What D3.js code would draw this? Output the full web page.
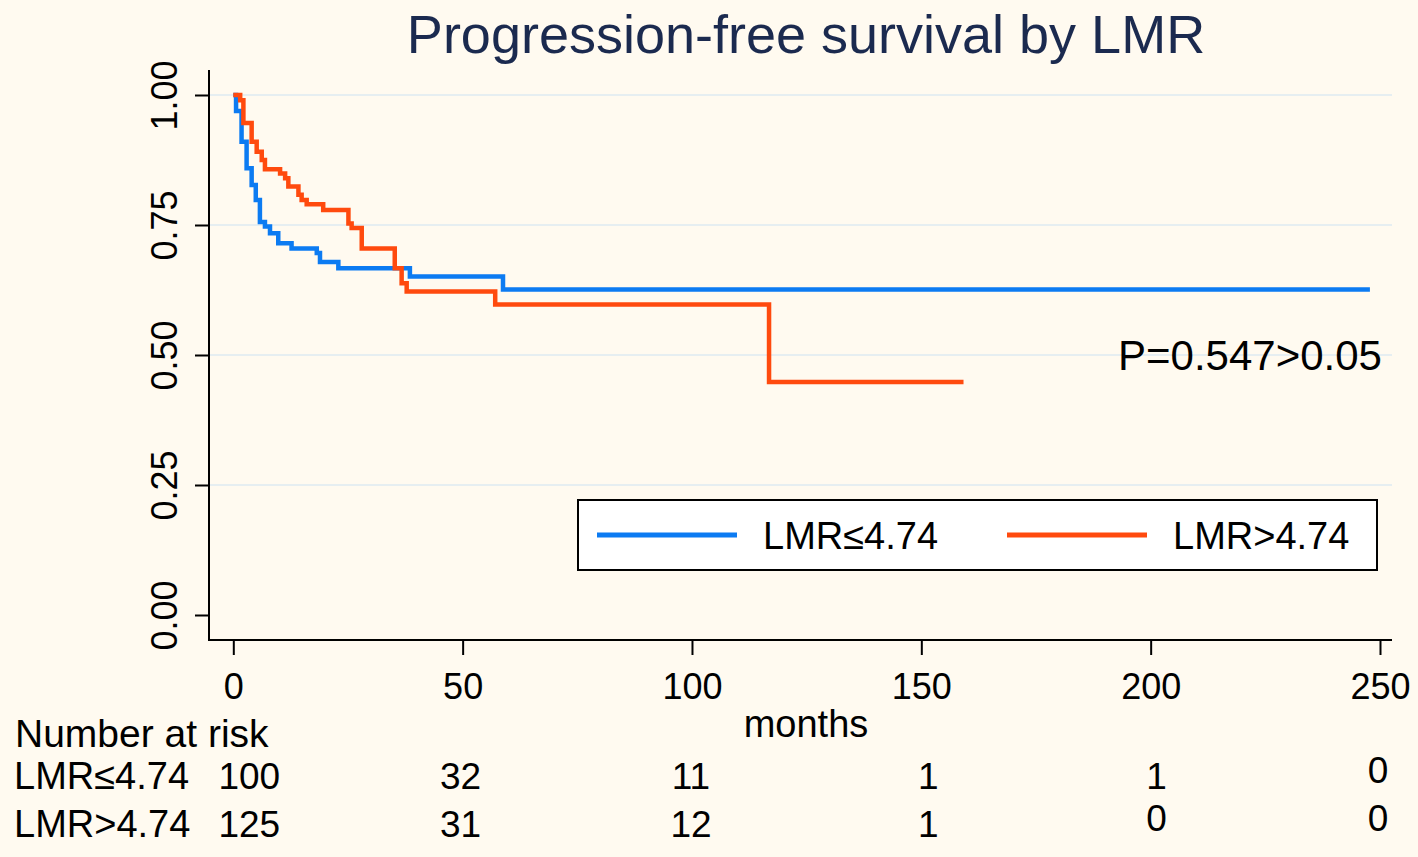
<!DOCTYPE html>
<html>
<head>
<meta charset="utf-8">
<script src="https://cdn.jsdelivr.net/npm/d3@7"></script>
<style>
  html, body { margin: 0; padding: 0; background: #fffaf0; }
  svg { display: block; }
  text { font-family: "Liberation Sans", Arial, sans-serif; }
</style>
</head>
<body>
<div id="chart"></div>
<script>
// ---------- data ----------
const groupNames = ["LMR≤4.74", "LMR>4.74"];
const lowTimes = [0, 0.6, 1.8, 2.9, 4.0, 4.9, 5.8, 6.9, 8.0, 9.8, 12.7, 18.2, 18.9, 22.9, 38.5, 58.8, 247.8];
const lowSurv  = [1.0, 0.969, 0.910, 0.859, 0.827, 0.798, 0.756, 0.747, 0.734, 0.715, 0.705, 0.696, 0.679, 0.667, 0.651, 0.626, 0.626];
const highTimes = [0, 1.5, 2.2, 4.0, 5.1, 6.2, 6.9, 10.2, 11.3, 12.0, 14.2, 14.9, 16.0, 19.6, 25.1, 25.8, 28.0, 35.2, 36.7, 37.8, 57.1, 116.8, 159.2];
const highSurv  = [1.0, 0.99, 0.946, 0.910, 0.891, 0.875, 0.857, 0.849, 0.840, 0.824, 0.808, 0.798, 0.790, 0.779, 0.753, 0.744, 0.705, 0.667, 0.638, 0.622, 0.597, 0.448, 0.448];
const xTicks = [0, 50, 100, 150, 200, 250];
const yTicks = [0, 0.25, 0.5, 0.75, 1.0];
const yGrid = [0.25, 0.5, 0.75, 1.0];
const riskTimes = [0, 50, 100, 150, 200, 250];
const riskLow  = [100, 32, 11, 1, 1, 0];
const riskHigh = [125, 31, 12, 1, 0, 0];
const titleText = "Progression-free survival by LMR";
const pText = "P=0.547>0.05";
const xLabel = "months";

// ---------- layout ----------
const W = 1418, H = 857;
const colors = ["#0c7bf2", "#ff4a0e"];
const svg = d3.select("#chart").append("svg").attr("width", W).attr("height", H);
svg.append("rect").attr("width", W).attr("height", H).attr("fill", "#fffaf0");

const x = d3.scaleLinear().domain([0, 250]).range([233.3, 1380]);
const y = d3.scaleLinear().domain([0, 1]).range([615, 95]);
const axX0 = 209, axX1 = 1392, axY0 = 70, axY1 = 640;

// gridlines
svg.append("g").selectAll("line").data(yGrid).join("line")
  .attr("x1", axX0 + 1).attr("x2", axX1)
  .attr("y1", d => y(d)).attr("y2", d => y(d))
  .attr("stroke", "#e6eef1").attr("stroke-width", 2);

// y axis
const yAxis = d3.axisLeft(y).tickValues(yTicks).tickFormat(d3.format(".2f")).tickSize(14).tickPadding(0);
const gy = svg.append("g").attr("transform", `translate(${axX0},0)`).call(yAxis);
gy.select(".domain").remove();
gy.selectAll(".tick line").attr("stroke", "#000").attr("stroke-width", 2);
gy.selectAll(".tick text")
  .attr("transform", "rotate(-90)")
  .attr("x", 0).attr("y", -42).attr("dy", 0)
  .attr("text-anchor", "middle")
  .attr("dominant-baseline", "middle")
  .style("font-size", "36px").attr("fill", "#000");
svg.append("line").attr("x1", axX0).attr("x2", axX0).attr("y1", axY0).attr("y2", axY1 + 1)
  .attr("stroke", "#000").attr("stroke-width", 2);

// x axis
const xAxis = d3.axisBottom(x).tickValues(xTicks).tickFormat(d3.format("d")).tickSize(15).tickPadding(18);
const gx = svg.append("g").attr("transform", `translate(0,${axY1})`).call(xAxis);
gx.select(".domain").remove();
gx.selectAll(".tick line").attr("stroke", "#000").attr("stroke-width", 2);
gx.selectAll(".tick text").style("font-size", "36px").attr("fill", "#000").attr("dy", "0.71em");
svg.append("line").attr("x1", axX0 - 1).attr("x2", axX1).attr("y1", axY1).attr("y2", axY1)
  .attr("stroke", "#000").attr("stroke-width", 2);

// curves
const line = d3.line().x(d => x(d[0])).y(d => y(d[1])).curve(d3.curveStepAfter);
const series = [
  d3.zip(lowTimes, lowSurv),
  d3.zip(highTimes, highSurv)
];
svg.append("g").selectAll("path").data(series).join("path")
  .attr("d", d => line(d))
  .attr("fill", "none")
  .attr("stroke", (d, i) => colors[i])
  .attr("stroke-width", 4.5)
  .attr("stroke-linejoin", "miter");

// title
svg.append("text").attr("x", 806).attr("y", 53).attr("text-anchor", "middle")
  .style("font-size", "54px").attr("fill", "#1b2a4f").text(titleText);

// p value
svg.append("text").attr("x", 1118).attr("y", 370)
  .style("font-size", "42px").attr("fill", "#000").text(pText);

// legend
const lg = svg.append("g");
lg.append("rect").attr("x", 578).attr("y", 500).attr("width", 799).attr("height", 70)
  .attr("fill", "#fff").attr("stroke", "#000").attr("stroke-width", 2);
const legX = [597, 1007];
groupNames.forEach((g, i) => {
  lg.append("line").attr("x1", legX[i]).attr("x2", legX[i] + 140).attr("y1", 535).attr("y2", 535)
    .attr("stroke", colors[i]).attr("stroke-width", 5);
  lg.append("text").attr("x", legX[i] + 166).attr("y", 549)
    .style("font-size", "38px").attr("fill", "#000").text(g);
});

// x label
svg.append("text").attr("x", 806).attr("y", 737).attr("text-anchor", "middle")
  .style("font-size", "38px").attr("fill", "#000").text(xLabel);

// risk table
svg.append("text").attr("x", 15).attr("y", 747).style("font-size", "39px").attr("fill", "#000").text("Number at risk");
const rows = [riskLow, riskHigh];
const rowY = [789, 837];
const colShift = [16, -2, -1, 7, 6, -2];
rows.forEach((vals, r) => {
  svg.append("text").attr("x", 14).attr("y", rowY[r]).style("font-size", "38px").attr("fill", "#000").text(groupNames[r]);
  svg.append("g").selectAll("text").data(riskTimes).join("text")
    .attr("x", (t, i) => x(t) + colShift[i])
    .attr("y", (t, i) => rowY[r] - (i >= 4 && (r === 1 || i === 5) ? 6 : 0))
    .attr("text-anchor", "middle")
    .style("font-size", "37px").attr("fill", "#000")
    .text((t, i) => vals[i]);
});
</script>
</body>
</html>
